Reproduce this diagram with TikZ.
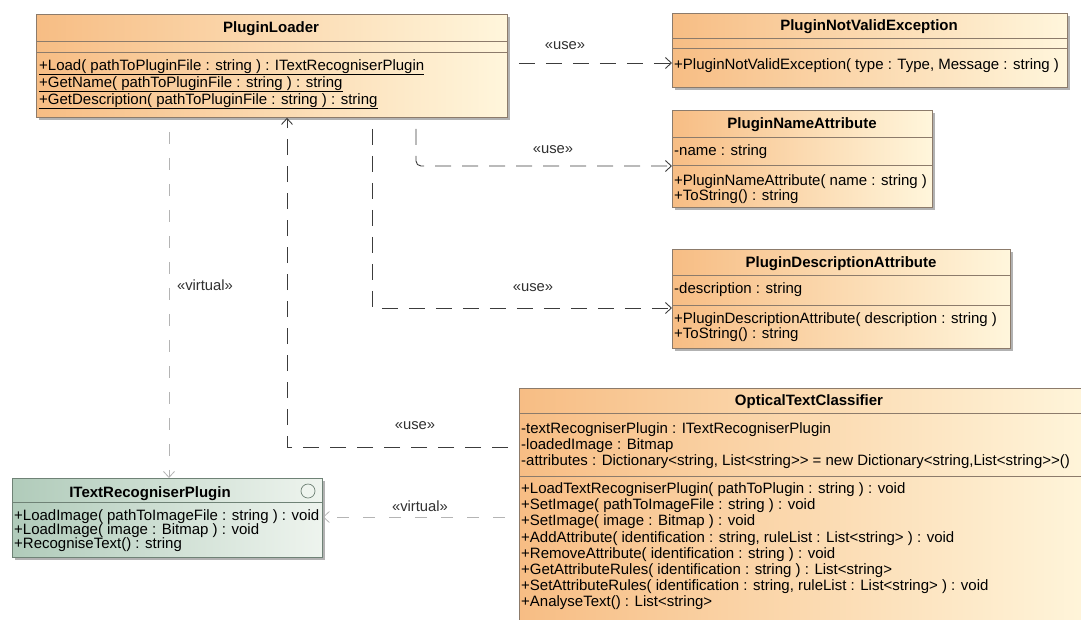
\documentclass[tikz,border=0pt]{standalone}
\usepackage{fontspec}
\setmainfont{Liberation Sans}
\usetikzlibrary{arrows.meta,shadows}
\definecolor{clsL}{HTML}{F7BD84}
\definecolor{clsR}{HTML}{FFF6DC}
\definecolor{clsB}{HTML}{8C7B6B}
\definecolor{ifcL}{HTML}{B0CBBA}
\definecolor{ifcR}{HTML}{EEF4EE}
\definecolor{ifcB}{HTML}{6F8276}
\definecolor{depC}{HTML}{3C3C3C}
\definecolor{virC}{HTML}{B4B4B4}
\definecolor{lblC}{HTML}{303030}
\begin{document}
\begin{tikzpicture}[x=1pt,y=-1pt,
 box/.style={rectangle, inner sep=0pt, anchor=north west, line width=0.8pt,
   drop shadow={shadow xshift=3pt, shadow yshift=-3pt, opacity=0.3, fill=black}},
 cls/.style={box, draw=clsB, left color=clsL, right color=clsR},
 ifc/.style={box, draw=ifcB, left color=ifcL, right color=ifcR},
 sep/.style={draw=clsB, line width=0.8pt},
 isep/.style={draw=ifcB, line width=0.8pt},
 txt/.style={anchor=base west, inner sep=0pt, font=\fontsize{15}{15}\selectfont},
 ttl/.style={anchor=base, inner sep=0pt, font=\fontsize{15}{15}\selectfont\bfseries},
 dep/.style={draw=depC, line width=0.9pt, dash pattern=on 16pt off 11pt, dash phase=16pt,
   -{Straight Barb[length=6pt,width=11pt]}},
 virt/.style={draw=virC, line width=0.8pt, dash pattern=on 12pt off 14pt, dash phase=12pt,
   -{Straight Barb[length=6pt,width=11pt]}},
 lbl/.style={inner sep=0pt, text=lblC, font=\fontsize{14.8}{15}\selectfont},
]
\useasboundingbox (0,0) rectangle (1081,619);
\clip (0,0) rectangle (1081,619);

% ---------- PluginLoader ----------
\node[cls, minimum width=471pt, minimum height=103pt] (PL) at (36,14) {};
\draw[sep] (PL.west |- 0,41) -- (PL.east |- 0,41);
\draw[sep] (PL.west |- 0,52) -- (PL.east |- 0,52);
\node[ttl] (PLt) at (271,32) {PluginLoader};
\node[txt] (PL1) at (39,70) {\underline{+Load( pathToPluginFile : string ) : ITextRecogniserPlugin}};
\node[txt] (PL2) at (39,87) {\underline{+GetName( pathToPluginFile : string ) : string}};
\node[txt] (PL3) at (39,104) {\underline{+GetDescription( pathToPluginFile : string ) : string}};

% ---------- PluginNotValidException ----------
\node[cls, minimum width=395pt, minimum height=74pt] (PNVE) at (672,13) {};
\draw[sep] (PNVE.west |- 0,38) -- (PNVE.east |- 0,38);
\draw[sep] (PNVE.west |- 0,48) -- (PNVE.east |- 0,48);
\node[ttl] (PNVEt) at (869,30) {PluginNotValidException};
\node[txt] (PNVE1) at (674,69) {+PluginNotValidException( type : Type, Message : string )};

% ---------- PluginNameAttribute ----------
\node[cls, minimum width=260pt, minimum height=97pt] (PNA) at (672,110) {};
\draw[sep] (PNA.west |- 0,137) -- (PNA.east |- 0,137);
\draw[sep] (PNA.west |- 0,165) -- (PNA.east |- 0,165);
\node[ttl] (PNAt) at (802,128) {PluginNameAttribute};
\node[txt] (PNA1) at (674,155) {-name : string};
\node[txt] (PNA2) at (674,185) {+PluginNameAttribute( name : string )};
\node[txt] (PNA3) at (674,200) {+ToString() : string};

% ---------- PluginDescriptionAttribute ----------
\node[cls, minimum width=338pt, minimum height=99pt] (PDA) at (672,249) {};
\draw[sep] (PDA.west |- 0,275) -- (PDA.east |- 0,275);
\draw[sep] (PDA.west |- 0,305) -- (PDA.east |- 0,305);
\node[ttl] (PDAt) at (841,267) {PluginDescriptionAttribute};
\node[txt] (PDA1) at (674,293) {-description : string};
\node[txt] (PDA2) at (674,323) {+PluginDescriptionAttribute( description : string )};
\node[txt] (PDA3) at (674,338) {+ToString() : string};

% ---------- OpticalTextClassifier ----------
\node[cls, minimum width=580pt, minimum height=250pt] (OTC) at (519,388) {};
\draw[sep] (OTC.west |- 0,413) -- (OTC.east |- 0,413);
\draw[sep] (OTC.west |- 0,476) -- (OTC.east |- 0,476);
\node[ttl] (OTCt) at (809,405) {OpticalTextClassifier};
\node[txt] (OTCa1) at (521,433) {-textRecogniserPlugin : ITextRecogniserPlugin};
\node[txt] (OTCa2) at (521,449) {-loadedImage : Bitmap};
\node[txt] (OTCa3) at (521,465) {-attributes : Dictionary<string, List<string>{}> = new Dictionary<string,List<string>{}>()};
\node[txt] (OTCo1) at (521,493) {+LoadTextRecogniserPlugin( pathToPlugin : string ) : void};
\node[txt] (OTCo2) at (521,509) {+SetImage( pathToImageFile : string ) : void};
\node[txt] (OTCo3) at (521,525) {+SetImage( image : Bitmap ) : void};
\node[txt] (OTCo4) at (521,542) {+AddAttribute( identification : string, ruleList : List<string> ) : void};
\node[txt] (OTCo5) at (521,558) {+RemoveAttribute( identification : string ) : void};
\node[txt] (OTCo6) at (521,574) {+GetAttributeRules( identification : string ) : List<string>};
\node[txt] (OTCo7) at (521,590) {+SetAttributeRules( identification : string, ruleList : List<string> ) : void};
\node[txt] (OTCo8) at (521,606) {+AnalyseText() : List<string>};

% ---------- ITextRecogniserPlugin ----------
\node[ifc, minimum width=310pt, minimum height=79pt] (ITRP) at (12,478) {};
\draw[isep] (ITRP.west |- 0,502) -- (ITRP.east |- 0,502);
\node[ttl] (ITRPt) at (150,497) {ITextRecogniserPlugin};
\node[circle, draw=ifcB, line width=0.7pt, fill=ifcR, minimum size=14pt, inner sep=0pt] (ITRPi) at (308,491) {};
\node[txt] (ITRP1) at (14,520) {+LoadImage( pathToImageFile : string ) : void};
\node[txt] (ITRP2) at (14,534) {+LoadImage( image : Bitmap ) : void};
\node[txt] (ITRP3) at (14,548) {+RecogniseText() : string};

% ---------- connectors ----------
\draw[dep] (PL.east |- 0,63) -- (PNVE.west |- 0,63);
\node[lbl] (L1) at (565,46) {«use»};

\draw[dep, rounded corners=5pt] (PL.south -| 416,0) -- (416,166) -- (PNA.west |- 0,166);
\node[lbl] (L2) at (553,150) {«use»};

\draw[dep] (PL.south -| 372,0) -- (372,308) -- (PDA.west |- 0,308);
\node[lbl] (L3) at (533,288) {«use»};

\draw[dep] (OTC.west |- 0,447) -- (287,447) -- (PL.south -| 287,0);
\node[lbl] (L4) at (415,426) {«use»};

\draw[virt] (PL.south -| 169,0) -- (ITRP.north -| 169,0);
\node[lbl] (L5) at (205,285) {«virtual»};

\draw[virt] (OTC.west |- 0,517) -- (ITRP.east |- 0,517);
\node[lbl] (L6) at (420,506) {«virtual»};
\end{tikzpicture}
\end{document}
